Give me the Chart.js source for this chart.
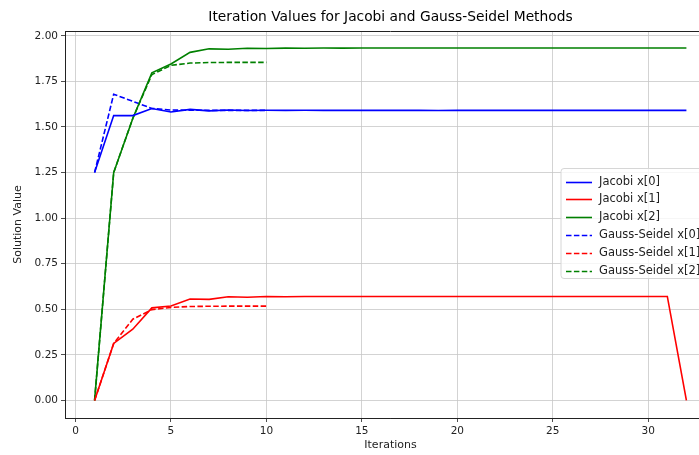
<!DOCTYPE html>
<html>
<head>
<meta charset="utf-8">
<script src="https://cdn.jsdelivr.net/npm/chart.js@4.4.1/dist/chart.umd.min.js"></script>
<style>
  html, body { margin: 0; padding: 0; background: #fff; overflow: hidden; }
  #wrap { width: 716px; height: 455px; }
</style>
</head>
<body>
<div id="wrap"><canvas id="iterations" width="716" height="455"></canvas></div>
<script>
// iteration numbers
var jacobiIter = [1, 2, 3, 4, 5, 6, 7, 8, 9, 10, 11, 12, 13, 14, 15, 16,
                  17, 18, 19, 20, 21, 22, 23, 24, 25, 26, 27, 28, 29, 30, 31, 32];
var gaussIter = [1, 2, 3, 4, 5, 6, 7, 8, 9, 10];

// Jacobi values
var jacobiX0 = [1.25, 1.5625, 1.5625, 1.6016, 1.5820, 1.5967, 1.5881, 1.5929, 1.5903, 1.5917,
                1.5909, 1.5914, 1.5911, 1.5912, 1.5912, 1.5912, 1.5912, 1.5912, 1.5905, 1.5912,
                1.5912, 1.5912, 1.5912, 1.5912, 1.5912, 1.5912, 1.5912, 1.5912, 1.5912, 1.5912,
                1.5912, 1.5912];
var jacobiX1 = [0, 0.3125, 0.3906, 0.5078, 0.5176, 0.5566, 0.5542, 0.5685, 0.5656, 0.5700,
                0.5688, 0.5702, 0.5699, 0.5703, 0.5702, 0.5703, 0.5703, 0.5703, 0.5703, 0.5703,
                0.5703, 0.5703, 0.5703, 0.5703, 0.5703, 0.5703, 0.5703, 0.5703, 0.5703, 0.5703,
                0.5703, 0];
var jacobiX2 = [0, 1.25, 1.5469, 1.7969, 1.8457, 1.9092, 1.9287, 1.9263, 1.9322, 1.9301,
                1.9326, 1.9320, 1.9330, 1.9328, 1.9330, 1.9330, 1.9330, 1.9330, 1.9330, 1.9330,
                1.9330, 1.9330, 1.9330, 1.9330, 1.9330, 1.9330, 1.9330, 1.9330, 1.9330, 1.9330,
                1.9330, 1.9330];

// Gauss-Seidel values
var gaussX0 = [1.25, 1.6797, 1.6406, 1.6016, 1.5930, 1.5915, 1.5913, 1.5912, 1.5912, 1.5912];
var gaussX1 = [0, 0.3125, 0.4453, 0.4980, 0.5100, 0.5151, 0.5166, 0.5170, 0.5171, 0.5171];
var gaussX2 = [0, 1.25, 1.5469, 1.7871, 1.8379, 1.8506, 1.8535, 1.8542, 1.8544, 1.8545];

// ticks
var xTicks = [0, 5, 10, 15, 20, 25, 30];
var yTicks = [0, 0.25, 0.5, 0.75, 1.0, 1.25, 1.5, 1.75, 2.0];

var FONT = "'DejaVu Sans', sans-serif";

function pts(xs, ys) {
	return xs.map(function(x, i) { return { x: x, y: ys[i] }; });
}

function series(label, xs, ys, color, dashed) {
	return {
		label : label,
		data : pts(xs, ys),
		borderColor : color,
		backgroundColor : color,
		borderWidth : 1.6,
		borderDash : dashed ? [5.5, 2.4] : [],
		pointRadius : 0,
		fill : false,
		tension : 0
	};
}

var datasets = [
	series("Jacobi x[0]", jacobiIter, jacobiX0, "#0000ff", false),
	series("Jacobi x[1]", jacobiIter, jacobiX1, "#ff0000", false),
	series("Jacobi x[2]", jacobiIter, jacobiX2, "#008000", false),
	series("Gauss-Seidel x[0]", gaussIter, gaussX0, "#0000ff", true),
	series("Gauss-Seidel x[1]", gaussIter, gaussX1, "#ff0000", true),
	series("Gauss-Seidel x[2]", gaussIter, gaussX2, "#008000", true)
];

// title, top/right spines and a matplotlib-like legend box
var mplDecor = {
	id : "mplDecor",
	afterDraw : function(chart) {
		var ctx = chart.ctx;
		var a = chart.chartArea;
		ctx.save();

		// spines
		ctx.strokeStyle = "#222";
		ctx.lineWidth = 1;
		ctx.beginPath();
		ctx.moveTo(a.left, Math.round(a.top) + 0.5);
		ctx.lineTo(a.right, Math.round(a.top) + 0.5);
		ctx.moveTo(Math.round(a.right) - 0.5, a.top);
		ctx.lineTo(Math.round(a.right) - 0.5, a.bottom);
		ctx.stroke();

		// title centred over the axes
		ctx.fillStyle = "#000";
		ctx.font = "13.8px " + FONT;
		ctx.textAlign = "center";
		ctx.textBaseline = "middle";
		ctx.fillText("Iteration Values for Jacobi and Gauss-Seidel Methods", (a.left + a.right) / 2, 17);

		// legend, centre right
		var n = chart.data.datasets.length;
		var rowH = 17.8;
		var boxW = 148, boxH = 110;
		var bx = a.right - 7 - boxW;
		var by = (a.top + a.bottom) / 2 - boxH / 2 - 1;
		var r = 3;
		ctx.beginPath();
		ctx.moveTo(bx + r, by);
		ctx.lineTo(bx + boxW - r, by);
		ctx.arcTo(bx + boxW, by, bx + boxW, by + r, r);
		ctx.lineTo(bx + boxW, by + boxH - r);
		ctx.arcTo(bx + boxW, by + boxH, bx + boxW - r, by + boxH, r);
		ctx.lineTo(bx + r, by + boxH);
		ctx.arcTo(bx, by + boxH, bx, by + boxH - r, r);
		ctx.lineTo(bx, by + r);
		ctx.arcTo(bx, by, bx + r, by, r);
		ctx.closePath();
		ctx.fillStyle = "rgba(255,255,255,0.8)";
		ctx.fill();
		ctx.strokeStyle = "#d6d6d6";
		ctx.stroke();

		ctx.textAlign = "left";
		ctx.font = "11.5px " + FONT;
		for (var i = 0; i < n; i++) {
			var ds = chart.data.datasets[i];
			var yy = Math.round(by + 13 + i * rowH) + 0.5;
			ctx.strokeStyle = ds.borderColor;
			ctx.lineWidth = 1.6;
			ctx.setLineDash(ds.borderDash);
			ctx.beginPath();
			ctx.moveTo(bx + 5, yy);
			ctx.lineTo(bx + 31, yy);
			ctx.stroke();
			ctx.setLineDash([]);
			ctx.fillStyle = "#222";
			ctx.fillText(ds.label, bx + 38, yy);
		}
		ctx.restore();
	}
};

var ctx = document.getElementById("iterations");

var chart = new Chart(ctx, {
	type : "line",
	data : { datasets : datasets },
	plugins : [mplDecor],
	options : {
		responsive : false,
		animation : false,
		devicePixelRatio : 1,
		layout : { padding : { top : 31, left : 0, right : 0, bottom : 0 } },
		plugins : {
			legend : { display : false },
			title : { display : false },
			tooltip : { enabled : false }
		},
		scales : {
			x : {
				type : "linear",
				min : -0.55,
				max : 33.55,
				afterBuildTicks : function(scale) {
					scale.ticks = xTicks.map(function(v) { return { value : v }; });
				},
				afterFit : function(scale) { scale.height = 37; },
				grid : { color : "#c8c8c8", lineWidth : 0.8, tickLength : 4, tickColor : "#222" },
				border : { color : "#222", width : 1 },
				ticks : {
					color : "#222",
					padding : 3,
					maxRotation : 0,
					font : { family : FONT, size : 10.5 },
					callback : function(v) { return String(v); }
				},
				title : {
					display : true,
					text : "Iterations",
					color : "#222",
					font : { family : FONT, size : 11 },
					padding : { top : 0, bottom : 3 }
				}
			},
			y : {
				type : "linear",
				min : -0.0965,
				max : 2.0265,
				afterBuildTicks : function(scale) {
					scale.ticks = yTicks.map(function(v) { return { value : v }; });
				},
				afterFit : function(scale) { scale.width = 65; },
				grid : { color : "#c8c8c8", lineWidth : 0.8, tickLength : 4, tickColor : "#222" },
				border : { color : "#222", width : 1 },
				ticks : {
					color : "#222",
					padding : 3,
					font : { family : FONT, size : 10.5 },
					callback : function(v) { return Number(v).toFixed(2); }
				},
				title : {
					display : true,
					text : "Solution Value",
					color : "#222",
					font : { family : FONT, size : 11 },
					padding : { top : 12, bottom : 0 }
				}
			}
		}
	}
});
</script>
</body>
</html>
